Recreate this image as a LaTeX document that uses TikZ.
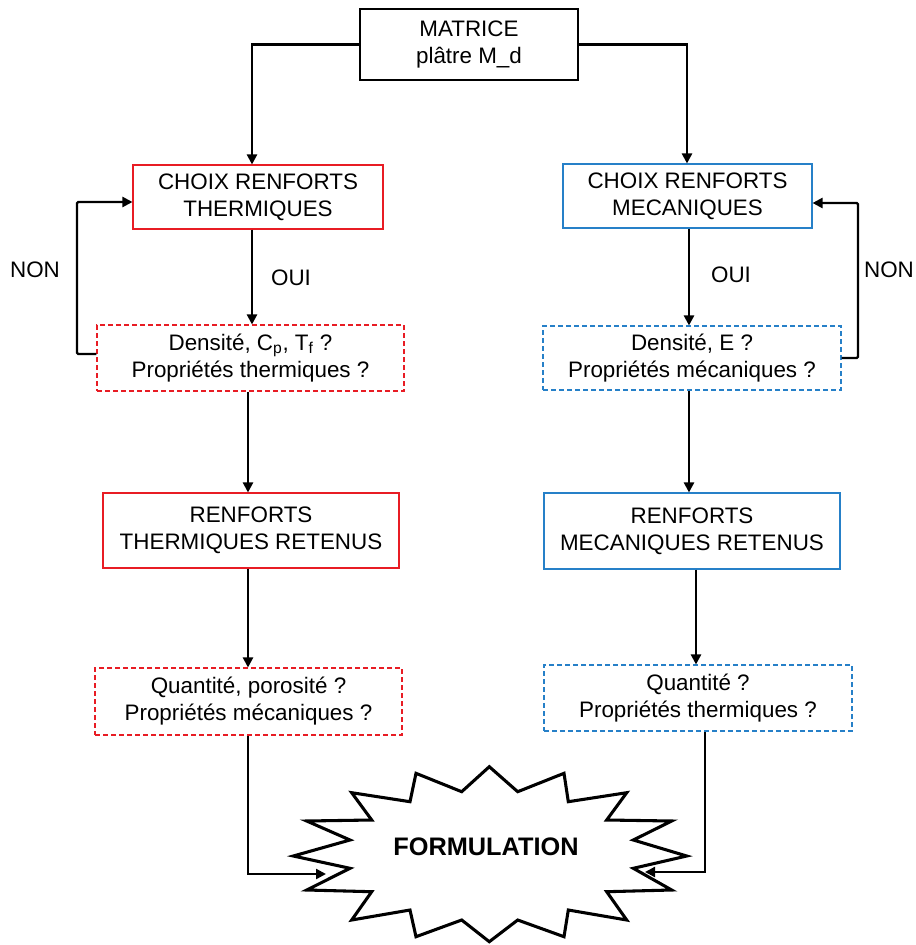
\documentclass[tikz,border=0pt]{standalone}
\usepackage{fontspec}
\setmainfont{Liberation Sans}
\usetikzlibrary{arrows.meta,calc}
\definecolor{myred}{RGB}{232,28,36}
\definecolor{myblue}{RGB}{38,128,200}
\begin{document}
\begin{tikzpicture}[x=0.75pt,y=-0.75pt,
  every node/.style={font=\fontsize{16.8}{20.3}\selectfont, align=center, inner sep=0pt},
  blackbox/.style={draw=black, line width=1.1pt},
  redbox/.style={draw=myred, line width=0.8pt},
  bluebox/.style={draw=myblue, line width=0.8pt},
  reddash/.style={draw=myred, line width=0.8pt, dash pattern=on 3.5pt off 2.5pt},
  bluedash/.style={draw=myblue, line width=0.8pt, dash pattern=on 3.5pt off 2.5pt},
  arr/.style={line width=1.7pt, -{Triangle[length=7.5pt,width=7.5pt]}},
  lbl/.style={font=\fontsize{16.8}{20.3}\selectfont}
]
\useasboundingbox (0,0) rectangle (916,945);

% boxes
\node[blackbox, minimum width=163.5pt, minimum height=53.25pt] (mat) at (469,44.5) {MATRICE\\plâtre M\_d};
\node[redbox, minimum width=187.5pt, minimum height=48pt] (cth) at (258,197) {CHOIX RENFORTS\\THERMIQUES};
\node[bluebox, minimum width=186.75pt, minimum height=48pt] (cme) at (687.5,196) {CHOIX RENFORTS\\MECANIQUES};
\node[reddash, minimum width=230.25pt, minimum height=49.5pt] (dth) at (250.5,358) {Densité, C\textsubscript{p}, T\textsubscript{f} ?\\Propriétés thermiques ?};
\node[bluedash, minimum width=223.5pt, minimum height=48pt] (dme) at (692,358) {Densité, E ?\\Propriétés mécaniques ?};
\node[redbox, minimum width=222pt, minimum height=56.25pt] (rth) at (251,530.5) {RENFORTS\\THERMIQUES RETENUS};
\node[bluebox, minimum width=222pt, minimum height=57pt] (rme) at (692,531) {RENFORTS\\MECANIQUES RETENUS};
\node[reddash, minimum width=230.25pt, minimum height=50.25pt] (qth) at (248.5,701.5) {Quantité, porosité ?\\Propriétés mécaniques ?};
\node[bluedash, minimum width=231pt, minimum height=49.5pt] (qme) at (698,698) {Quantité ?\\Propriétés thermiques ?};

% starburst
\draw[line width=2.3pt, line join=miter, fill=white]
  (489.3,766.7) -- (517.7,791.7) -- (564,773.3) -- (568.3,801.7) -- (626.7,792.7) -- (606.7,820)
  -- (671.7,821) -- (633.3,840) -- (686.7,856) -- (633.3,868.3) -- (671.7,890) -- (606.7,891.7)
  -- (626.7,920) -- (568.3,910) -- (564,936.7) -- (517.7,920) -- (489.3,941.7) -- (461.7,920)
  -- (416,936.7) -- (410,910) -- (351.7,920) -- (371.7,891.7) -- (306.7,890) -- (350,868.3)
  -- (293.3,856) -- (350,840) -- (306.7,821) -- (371.7,820) -- (351.7,792.7) -- (410,801.7)
  -- (416,773.3) -- (461.7,791.7) -- cycle;
\node[font=\fontsize{19}{23}\selectfont\bfseries] (form) at (486,847) {FORMULATION};
\coordinate (sL) at (326,874);
\coordinate (sR) at (645,872);

% column coordinates
\coordinate (cL1) at (252,0);
\coordinate (cL2) at (248,0);
\coordinate (cR1) at (687,0);
\coordinate (cR2) at (689,0);
\coordinate (cR3) at (696,0);
\coordinate (cR4) at (705,0);
\coordinate (nl1) at (77,354);
\coordinate (nl2) at (77,202);
\coordinate (nr1) at (858,358);
\coordinate (nr2) at (858,203);

% connectors
\draw[arr] (mat.west) -| (cth.north -| cL1);
\draw[arr] (mat.east) -| (cme.north -| cR1);
\draw[arr] (cth.south -| cL1) -- (dth.north -| cL1);
\draw[arr] (cme.south -| cR2) -- (dme.north -| cR2);
\draw[arr] (dth.south -| cL2) -- (rth.north -| cL2);
\draw[arr] (dme.south -| cR2) -- (rme.north -| cR2);
\draw[arr] (rth.south -| cL2) -- (qth.north -| cL2);
\draw[arr] (rme.south -| cR3) -- (qme.north -| cR3);
\draw[arr] (qth.south -| cL2) |- (sL);
\draw[arr] (qme.south -| cR4) |- (sR);
\draw[arr, rounded corners=1pt] (dth.west |- nl1) -- (nl1) -- (nl2) -- (cth.west |- nl2);
\draw[arr, rounded corners=1pt] (dme.east |- nr1) -- (nr1) -- (nr2) -- (cme.east |- nr2);

% labels
\node[lbl] (ouiL) at (291,278) {OUI};
\node[lbl] (ouiR) at (731,275) {OUI};
\node[lbl] (nonL) at (35,270) {NON};
\node[lbl] (nonR) at (889,270) {NON};
\end{tikzpicture}
\end{document}
